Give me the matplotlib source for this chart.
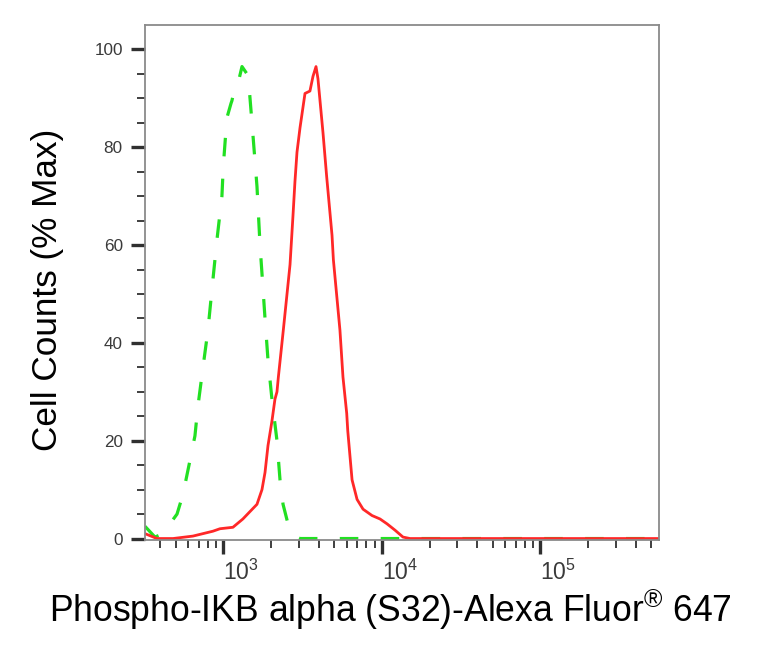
import matplotlib
matplotlib.use("Agg")
import matplotlib.pyplot as plt
from matplotlib import font_manager
from matplotlib.ticker import LogLocator, FixedLocator, NullFormatter

# fluorescence intensity vs % of max
ctrl_x = [321, 371, 417, 461, 511, 557, 617, 663, 692, 745, 800, 849, 912, 981,
          1000, 1054, 1120, 1134, 1180, 1238, 1313, 1412, 1450, 1518, 1632, 1706,
          1765, 1834, 1915, 2028, 2182, 2280, 2383, 2561, 2800, 3049, 10000, 560000]
ctrl_y = [2.5, 0.3, 1.0, 3, 5, 9, 16, 21, 27, 35, 42.5, 51, 61, 70,
          76, 86, 89, 89.5, 92, 93, 96.5, 95, 93, 85, 72, 60,
          53, 45, 36.5, 28.5, 20, 12, 7, 3, 0.5, 0, 0, 0]

stain_x = [321, 382, 482, 644, 861, 953, 1151, 1330, 1473, 1632, 1755, 1834, 1915,
           2028, 2119, 2182, 2226, 2392, 2637, 2753, 2833, 2918, 3049, 3277, 3522,
           3681, 3846, 3957, 4256, 4490, 4853, 4950, 5445, 5690, 6007, 6100, 6492,
           6981, 7616, 8677, 9743, 10793, 12123, 13600, 15070, 560000]
stain_y = [1, 0, 0, 0.5, 1.5, 2, 2.3, 4, 5.5, 7, 10, 13.5, 19,
           24, 28.5, 30, 33, 42.6, 56, 66, 73, 79, 84, 91, 91.5,
           94.5, 96.5, 94, 83, 74, 62, 57, 42.6, 33, 25.6, 22, 12,
           8, 6, 4.7, 4, 3, 1.7, 0.3, 0, 0]

y_ticks = [0, 20, 40, 60, 80, 100]
x_ticks = [1e3, 1e4, 1e5]
x_tick_labels = [r"$\mathregular{10^{3}}$", r"$\mathregular{10^{4}}$", r"$\mathregular{10^{5}}$"]

installed = {f.name for f in font_manager.fontManager.ttflist}
base_font = "Liberation Sans" if "Liberation Sans" in installed else "DejaVu Sans"
narrow_font = "Liberation Sans Narrow" if "Liberation Sans Narrow" in installed else base_font
plt.rcParams["font.family"] = [base_font, "DejaVu Sans"]

fig = plt.figure(figsize=(7.74, 6.55), dpi=100)
ax = fig.add_axes([145 / 774, 1 - 540 / 655, 514 / 774, 515 / 655])

ax.plot(ctrl_x, ctrl_y, color="#22e022", lw=2.3, dashes=(5.8, 7.0), solid_capstyle="butt")
ax.plot(stain_x, stain_y, color="#ff2828", lw=2.0)

ax.set_xscale("log")
ax.set_xlim(321, 5.6e5)
ax.set_ylim(-0.3, 105)

for s in ax.spines.values():
    s.set_color("#8a8a8a")
    s.set_linewidth(1.3)

ax.xaxis.set_major_locator(FixedLocator(x_ticks))
ax.set_xticklabels(x_tick_labels, ha="left", family=[narrow_font, base_font],
                   fontsize=16.5, color="#3a3a3a")
ax.xaxis.set_minor_locator(LogLocator(base=10, subs=range(2, 10), numticks=20))
ax.xaxis.set_minor_formatter(NullFormatter())

ax.set_yticks(y_ticks)
ax.set_yticklabels([str(v) for v in y_ticks], fontsize=12.3, color="#3a3a3a")
ax.set_yticks(range(5, 105, 5), minor=True)

ax.tick_params(axis="both", which="major", direction="out", color="#303030",
               length=10, width=2.4)
ax.tick_params(axis="both", which="minor", direction="out", color="#303030",
               length=6, width=1.3)
ax.tick_params(axis="y", which="major", pad=6)
ax.tick_params(axis="x", which="major", pad=4)

fig.text(48 / 774, 1 - 290 / 655, "Cell Counts (% Max)", rotation=90,
         ha="center", va="center", fontsize=25.3)
fig.text(390 / 774, 1 - 610 / 655,
         r"Phospho-IKB alpha (S32)-Alexa Fluor$\mathregular{^{®}}$ 647",
         ha="center", va="center", fontsize=25.6)

fig.savefig("out.png", dpi=100)
